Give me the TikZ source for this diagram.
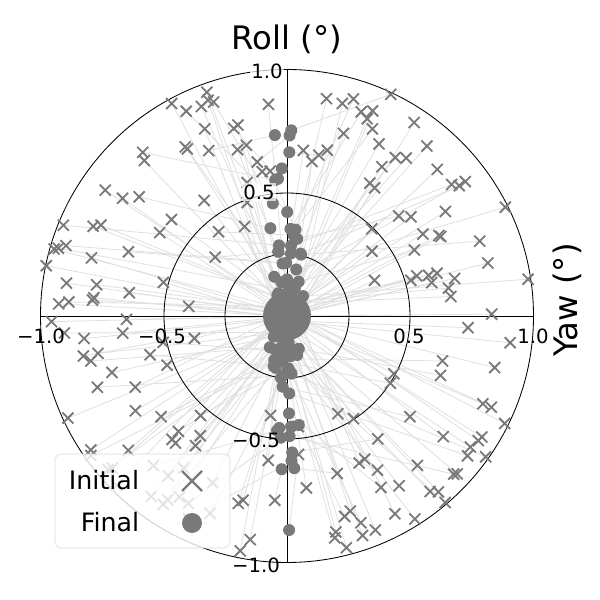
\documentclass[tikz,border=0pt]{standalone}
\usepackage{fontspec}
\setmainfont{DejaVu Sans}
\begin{document}
\begin{tikzpicture}[x=0.025cm,y=0.025cm,
  mk/.style={draw=gray!95!black,line width=1.3pt},
  dot/.style={fill=gray!95!black},
  tick/.style={font=\fontsize{14}{14}\selectfont}]
\useasboundingbox (0,0) rectangle (600,600);
\begin{scope}[shift={(287,284)}]
\newcommand\pts[1]{%
\pgfmathsetseed{11}%
\foreach \i in {1,...,190}{%
  \pgfmathsetmacro\ang{180*rand}%
  \pgfmathsetmacro\rr{246*(0.35+0.65*sqrt(rnd))}%
  \pgfmathsetmacro\u{rnd}%
  \pgfmathsetmacro\fx{12*rand+10*\u*\u*cos(\ang)}%
  \pgfmathsetmacro\fy{246*0.9*\u*\u*\u*sin(\ang)}%
  \pgfmathsetmacro\ix{\rr*cos(\ang)}%
  \pgfmathsetmacro\iy{\rr*sin(\ang)}%
  #1}}
\pts{\draw[black!12,line width=0.6pt] (\ix,\iy) -- (\fx,\fy);}
\draw[black,line width=0.6pt] (0,0) circle (246.5) (0,0) circle (123) (0,0) circle (62);
\draw[black,line width=0.6pt] (-246.5,0) -- (246.5,0) (0,-246.5) -- (0,246.5);
\pts{\draw[mk] (\ix-5.5,\iy-5.5) -- (\ix+5.5,\iy+5.5) (\ix-5.5,\iy+5.5) -- (\ix+5.5,\iy-5.5);}
\pts{\fill[dot] (\fx,\fy) circle (6);}
\fill[dot] (0,0) circle (24);
\node[tick,fill=white,fill opacity=0.7,text opacity=1,inner sep=1pt] (t1) at (-20,245) {1.0};
\node[tick,fill=white,fill opacity=0.7,text opacity=1,inner sep=1pt] (t2) at (-28,124) {0.5};
\node[tick] (t3) at (-31,-124) {−0.5};
\node[tick] (t4) at (-31,-249) {−1.0};
\node[tick] (h1) at (-246,-20) {−1.0};
\node[tick] (h2) at (-125,-20) {−0.5};
\node[tick] (h3) at (122,-20) {0.5};
\node[tick] (h4) at (246,-20) {1.0};
\end{scope}
\node[font=\fontsize{23}{23}\selectfont] (title) at (287,561) {Roll (°)};
\node[font=\fontsize{23}{23}\selectfont,rotate=90] (yaw) at (567,300) {Yaw (°)};
\draw[black!15,fill=white,fill opacity=0.8,rounded corners=4] (55,52) rectangle (230,146);
\node[font=\fontsize{18}{18}\selectfont] (li) at (104,120) {Initial};
\node[font=\fontsize{18}{18}\selectfont] (lf) at (110,78) {Final};
\draw[mk,line width=1.6pt] (182,109) -- (202,129) (182,129) -- (202,109);
\fill[dot] (192,77) circle (10);
\end{tikzpicture}
\end{document}
